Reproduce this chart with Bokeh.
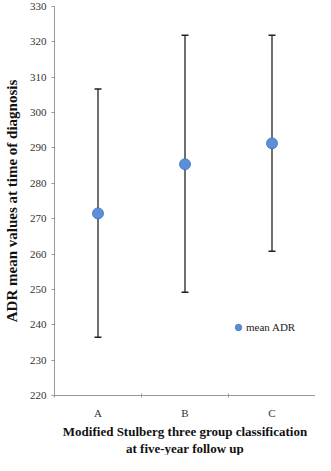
from bokeh.plotting import figure
from bokeh.models import (ColumnDataSource, Whisker, TeeHead, LinearAxis, FixedTicker,
                          Legend, LegendItem, Range1d, Title)
from bokeh.embed import file_html
from bokeh.resources import INLINE

categories = ["A", "B", "C"]
mean_adr = [271.5, 285.4, 291.3]
upper = [306.7, 321.9, 321.9]
lower = [236.5, 249.2, 260.8]
y_ticks = [220, 230, 240, 250, 260, 270, 280, 290, 300, 310, 320, 330]
x_title = ["Modified Stulberg three group classification", "at five-year follow up"]

SERIF = "Liberation Serif"

src = ColumnDataSource(dict(cat=categories, mean=mean_adr, upper=upper, lower=lower))

p = figure(width=315, height=455, x_range=categories, y_range=Range1d(220, 330),
           output_backend="svg", toolbar_location=None, x_axis_type=None,
           min_border_left=41, min_border_right=0, min_border_top=6, min_border_bottom=0)
p.outline_line_color = None
p.xgrid.grid_line_color = None
p.ygrid.grid_line_color = None

# y axis
yax = p.yaxis[0]
yax.ticker = FixedTicker(ticks=y_ticks)
yax.axis_label = "ADR mean values at time of diagnosis"
yax.axis_label_text_font = SERIF
yax.axis_label_text_font_style = "bold"
yax.axis_label_text_font_size = "15px"
yax.axis_label_text_color = "#111111"
yax.axis_label_standoff = 7
yax.major_label_text_font = SERIF
yax.major_label_text_font_size = "11px"
yax.major_label_text_color = "#333333"
yax.axis_line_color = "#999999"
yax.major_tick_line_color = "#999999"
yax.major_tick_out = 3
yax.major_tick_in = 0
yax.minor_tick_line_color = None

# x axis: labels at category centres, small ticks at category boundaries
n = len(categories)
xax = LinearAxis(ticker=FixedTicker(ticks=[i + 0.5 for i in range(n)],
                                    minor_ticks=[i for i in range(n + 1)]))
xax.major_label_overrides = {i + 0.5: c for i, c in enumerate(categories)}
xax.major_label_text_font = SERIF
xax.major_label_text_font_size = "11px"
xax.major_label_text_color = "#333333"
xax.major_label_standoff = 5
xax.axis_line_color = "#999999"
xax.major_tick_line_color = None
xax.minor_tick_line_color = "#999999"
xax.minor_tick_out = 2
xax.minor_tick_in = 2
p.add_layout(xax, "below")

# two-line x axis title
for txt in x_title:
    p.add_layout(Title(text=txt, align="center", offset=-8, standoff=0,
                       text_font=SERIF, text_font_style="bold",
                       text_font_size="13px", text_color="#111111"), "below")

w = Whisker(source=src, base="cat", upper="upper", lower="lower",
            line_color="#222222", line_width=1.3,
            upper_head=TeeHead(size=7, line_color="#222222", line_width=1.5),
            lower_head=TeeHead(size=7, line_color="#222222", line_width=1.5))
p.add_layout(w)

r = p.scatter("cat", "mean", source=src, size=11, fill_color="#5B8FDA",
              line_color="#3F6FB8", line_width=0.8)

legend = Legend(items=[LegendItem(label="mean ADR", renderers=[r])],
                location=(176, 59), border_line_color=None,
                background_fill_alpha=0, label_text_font=SERIF,
                label_text_font_size="11px", label_text_color="#222222",
                glyph_width=16, glyph_height=18, label_standoff=0,
                padding=0, margin=0, spacing=0)
p.add_layout(legend)

open("out.html", "w").write(file_html(p, INLINE))
